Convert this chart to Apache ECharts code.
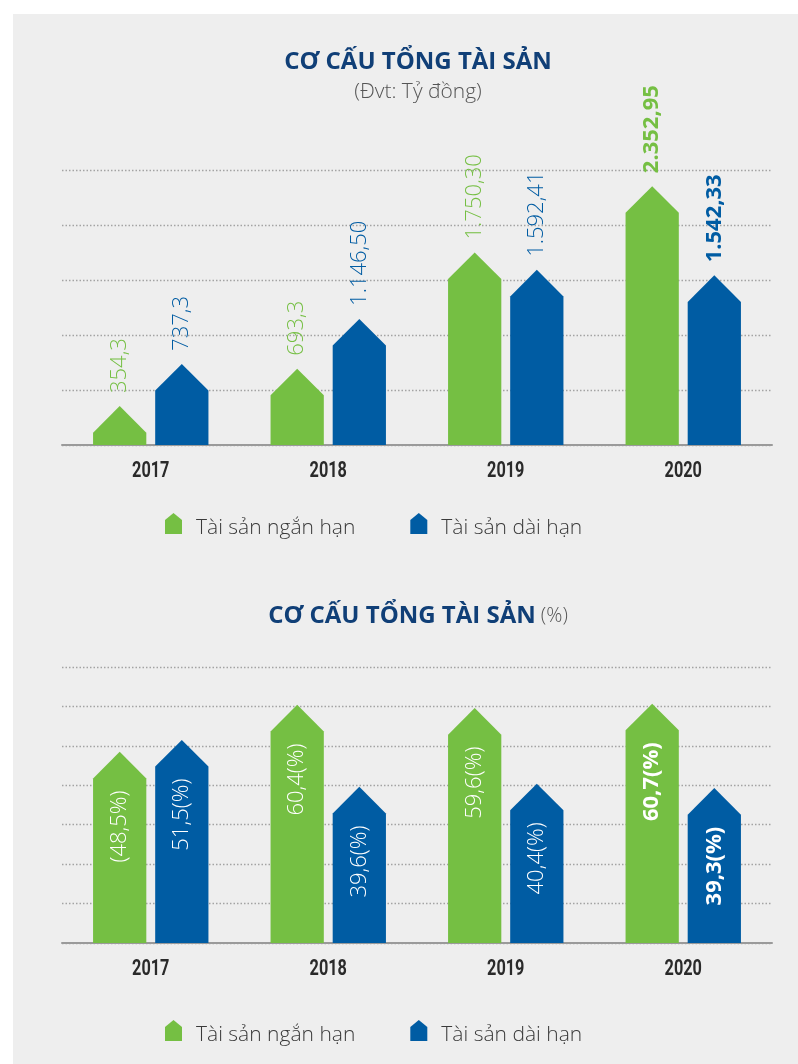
<!DOCTYPE html>
<html>
<head>
<meta charset="utf-8">
<script src="https://cdn.jsdelivr.net/npm/echarts@6/dist/echarts.min.js"></script>
<style>
  html, body { margin: 0; padding: 0; background: #ffffff; }
  #bg { position: absolute; left: 13px; top: 14px; width: 785px; height: 1050px; background: #eeeeee; }
  #chart { position: absolute; left: 0; top: 0; width: 798px; height: 1064px; }
</style>
</head>
<body>
<div id="bg"></div>
<div id="chart"></div>
<script>
// ---- data ----
const categories = ['2017', '2018', '2019', '2020'];
const seriesNames = ['Tài sản ngắn hạn', 'Tài sản dài hạn'];

const shortTermValues = [354.3, 693.3, 1750.30, 2352.95];
const longTermValues = [737.3, 1146.50, 1592.41, 1542.33];
const shortTermLabels = ['354,3', '693,3', '1.750,30', '2.352,95'];
const longTermLabels = ['737,3', '1.146,50', '1.592,41', '1.542,33'];

const shortTermPct = [48.5, 60.4, 59.6, 60.7];
const longTermPct = [51.5, 39.6, 40.4, 39.3];
const shortTermPctLabels = ['(48,5%)', '60,4(%)', '59,6(%)', '60,7(%)'];
const longTermPctLabels = ['51,5(%)', '39,6(%)', '40,4(%)', '39,3(%)'];

const valueTicks = [0, 500, 1000, 1500, 2000, 2500];
const pctTicks = [0, 10, 20, 30, 40, 50, 60, 70];
const highlightYear = '2020';

// ---- styles ----
const GREEN = '#75bf43';
const BLUE = '#005ca3';
const TITLE_BLUE = '#103f77';
const FONT = "'Open Sans', 'Noto Sans', sans-serif";

function houseRenderer(side, labels, inside) {
  return function (params, api) {
    const i = api.value(0), v = api.value(1);
    const base = api.coord([i, 0]);
    const tip = api.coord([i, v]);
    const band = api.size([1, 0])[0];
    const w = band * 0.3, gap = band * 0.05;
    const cx = base[0] + side * (gap / 2 + w / 2);
    const x0 = cx - w / 2, x1 = cx + w / 2;
    const roof = Math.min(w / 2, base[1] - tip[1]);
    const sh = tip[1] + roof;
    const color = api.visual('color');
    const bold = categories[i] === highlightYear;
    let text;
    if (inside) {
      text = {
        type: 'text', x: cx, y: sh + 12, rotation: Math.PI / 2,
        style: {
          text: labels[i], fill: '#ffffff', fontSize: 22, fontFamily: FONT,
          fontWeight: bold ? 'bold' : 300, align: 'right', verticalAlign: 'middle'
        }
      };
    } else {
      text = {
        type: 'text', x: cx, y: tip[1] - 13, rotation: Math.PI / 2,
        style: {
          text: labels[i], fill: color, fontSize: 22, fontFamily: FONT,
          fontWeight: bold ? 'bold' : 300, align: 'left', verticalAlign: 'middle'
        }
      };
    }
    return {
      type: 'group',
      children: [
        {
          type: 'polygon',
          shape: { points: [[x0, base[1]], [x0, sh], [cx, tip[1]], [x1, sh], [x1, base[1]]] },
          style: { fill: color }
        },
        text
      ]
    };
  };
}

// condensed bold category labels under the axis
function categoryLabelRenderer(params, api) {
  const i = api.value(0);
  const base = api.coord([i, 0]);
  return {
    type: 'text', x: base[0], y: base[1] + 26, scaleX: 0.74,
    style: {
      text: categories[i], fill: '#2a2a2a', fontSize: 22, fontWeight: 'bold',
      fontFamily: "Roboto, 'Open Sans', sans-serif", align: 'center', verticalAlign: 'middle'
    }
  };
}

function toData(arr) { return arr.map((v, i) => [i, v]); }

const HOUSE_ICON = 'path://M0,7 L8.5,0 L17,7 L17,21 L0,21 Z';

const xAxisBase = {
  type: 'category',
  data: categories,
  axisTick: { show: false },
  axisLine: { show: true, lineStyle: { color: '#9a9a9a', width: 2 } },
  axisLabel: { show: false }
};
const yAxisBase = {
  type: 'value',
  axisLabel: { show: false },
  axisLine: { show: false },
  axisTick: { show: false },
  splitLine: { show: true, lineStyle: { color: '#a3a3a3', width: 1.3, type: [1.5, 2] } }
};

const legendBase = {
  data: seriesNames,
  icon: HOUSE_ICON,
  itemWidth: 17,
  itemHeight: 21,
  itemGap: 55,
  selectedMode: false,
  formatter: name => '{t|' + name + '}',
  textStyle: {
    fontSize: 21, color: '#3a3a3a', fontFamily: FONT, fontWeight: 300,
    rich: { t: { fontSize: 21, color: '#3a3a3a', fontFamily: FONT, fontWeight: 300, padding: [9, 0, 0, 9] } }
  }
};

const chart = echarts.init(document.getElementById('chart'), null, { renderer: 'canvas' });
chart.setOption({
  animation: false,
  title: [
    {
      text: 'CƠ CẤU TỔNG TÀI SẢN',
      subtext: '(Đvt: Tỷ đồng)',
      left: 413, top: 45, textAlign: 'center', itemGap: 8,
      textStyle: { color: TITLE_BLUE, fontSize: 24, fontWeight: 'bold', fontFamily: FONT },
      subtextStyle: { color: '#555555', fontSize: 21, fontWeight: 300, fontFamily: FONT }
    },
    {
      text: '{b|CƠ CẤU TỔNG TÀI SẢN} {n|(%)}',
      left: 413, top: 599, textAlign: 'center',
      textStyle: {
        rich: {
          b: { color: TITLE_BLUE, fontSize: 24, fontWeight: 'bold', fontFamily: FONT },
          n: { color: '#555555', fontSize: 20, fontWeight: 300, fontFamily: FONT }
        }
      }
    }
  ],
  legend: [
    Object.assign({ left: 160, top: 508 }, legendBase),
    Object.assign({ left: 160, top: 1015 }, legendBase)
  ],
  grid: [
    { left: 62, right: 26, top: 170, height: 275 },
    { left: 62, right: 26, top: 667, height: 276 }
  ],
  xAxis: [
    Object.assign({ gridIndex: 0 }, xAxisBase),
    Object.assign({ gridIndex: 1 }, xAxisBase)
  ],
  yAxis: [
    Object.assign({ gridIndex: 0, min: valueTicks[0], max: valueTicks[valueTicks.length - 1], interval: valueTicks[1] - valueTicks[0] }, yAxisBase),
    Object.assign({ gridIndex: 1, min: pctTicks[0], max: pctTicks[pctTicks.length - 1], interval: pctTicks[1] - pctTicks[0] }, yAxisBase)
  ],
  series: [
    {
      name: seriesNames[0], type: 'custom', xAxisIndex: 0, yAxisIndex: 0,
      itemStyle: { color: GREEN }, encode: { x: 0, y: 1 },
      data: toData(shortTermValues), renderItem: houseRenderer(-1, shortTermLabels, false)
    },
    {
      name: seriesNames[1], type: 'custom', xAxisIndex: 0, yAxisIndex: 0,
      itemStyle: { color: BLUE }, encode: { x: 0, y: 1 },
      data: toData(longTermValues), renderItem: houseRenderer(1, longTermLabels, false)
    },
    {
      name: seriesNames[0], type: 'custom', xAxisIndex: 1, yAxisIndex: 1,
      itemStyle: { color: GREEN }, encode: { x: 0, y: 1 },
      data: toData(shortTermPct), renderItem: houseRenderer(-1, shortTermPctLabels, true)
    },
    {
      name: seriesNames[1], type: 'custom', xAxisIndex: 1, yAxisIndex: 1,
      itemStyle: { color: BLUE }, encode: { x: 0, y: 1 },
      data: toData(longTermPct), renderItem: houseRenderer(1, longTermPctLabels, true)
    },
    {
      name: 'categoryLabels0', type: 'custom', xAxisIndex: 0, yAxisIndex: 0, silent: true,
      encode: { x: 0, y: 1 }, data: categories.map((c, i) => [i, 0]), renderItem: categoryLabelRenderer
    },
    {
      name: 'categoryLabels1', type: 'custom', xAxisIndex: 1, yAxisIndex: 1, silent: true,
      encode: { x: 0, y: 1 }, data: categories.map((c, i) => [i, 0]), renderItem: categoryLabelRenderer
    }
  ]
});
</script>
</body>
</html>
